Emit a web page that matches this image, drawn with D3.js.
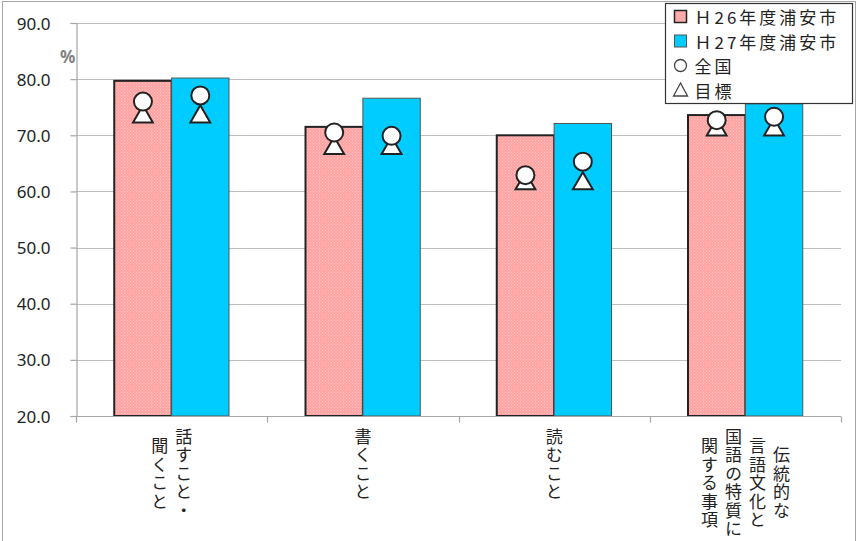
<!DOCTYPE html>
<html>
<head>
<meta charset="utf-8">
<script src="https://cdn.jsdelivr.net/npm/d3@7"></script>
<style>
  html, body { margin: 0; padding: 0; background: #fff; }
  svg { display: block; font-family: "Noto Sans CJK JP", "Noto Sans", sans-serif; }
</style>
</head>
<body>
<svg id="chart" width="858" height="541"></svg>
<script>
// Category labels, split into vertical text columns (right-most column first)
const categories = ["話すこと・聞くこと", "書くこと", "読むこと", "伝統的な言語文化と国語の特質に関する事項"];
const categoryColumns = [
  ["話すこと・", "聞くこと"],
  ["書くこと"],
  ["読むこと"],
  ["伝統的な", "言語文化と", "国語の特質に", "関する事項"]
];

// Series values (%)
const seriesNames = ["Ｈ26年度浦安市", "Ｈ27年度浦安市"];
const h26Values = [79.7, 71.5, 70.0, 73.6];
const h27Values = [80.2, 76.6, 72.1, 75.6];
const nationalH26 = [76.0, 70.5, 62.9, 72.7];
const nationalH27 = [77.1, 69.9, 65.3, 73.3];
const targetH26 = [73.3, 67.7, 61.4, 71.0];
const targetH27 = [73.3, 67.7, 61.4, 71.0];

const yTicks = [20, 30, 40, 50, 60, 70, 80, 90];
const legendItems = ["Ｈ26年度浦安市", "Ｈ27年度浦安市", "全国", "目標"];

const svg = d3.select("#chart");
const W = 858, H = 541;
const margin = { left: 76, right: 17, top: 23, bottom: 125 };
const plotW = W - margin.left - margin.right;
const plotH = H - margin.top - margin.bottom;

// Dotted pink texture for the H26 bars
const defs = svg.append("defs");
const pat = defs.append("pattern").attr("id", "pinkDots")
  .attr("width", 3).attr("height", 3).attr("patternUnits", "userSpaceOnUse");
pat.append("rect").attr("width", 3).attr("height", 3).attr("fill", "#FFA3A3");
pat.append("rect").attr("x", 0).attr("y", 0).attr("width", 1).attr("height", 1).attr("fill", "#FFC6C6");
pat.append("rect").attr("x", 1.5).attr("y", 1.5).attr("width", 1).attr("height", 1).attr("fill", "#FFBCBC");

// Outer frame
svg.append("rect").attr("x", 2.5).attr("y", 1.5).attr("width", 853).attr("height", 560)
  .attr("fill", "none").attr("stroke", "#A6A6A6").attr("stroke-width", 1);

const g = svg.append("g").attr("transform", `translate(${margin.left},${margin.top})`);

const y = d3.scaleLinear().domain([20, 90]).range([plotH, 0]);
const x0 = d3.scaleBand().domain(d3.range(categories.length)).range([0, plotW]).paddingInner(0.4).paddingOuter(0.2);
const x1 = d3.scaleBand().domain([0, 1]).range([0, x0.bandwidth()]);

// Gridlines
g.append("g").selectAll("line").data(yTicks.filter(t => t > 20)).join("line")
  .attr("x1", 0).attr("x2", plotW)
  .attr("y1", d => Math.round(y(d)) + 0.5).attr("y2", d => Math.round(y(d)) + 0.5)
  .attr("stroke", "#BFBFBF").attr("stroke-width", 1.2);

// Y axis
const yAxis = g.append("g").attr("transform", "translate(0.5,0)")
  .call(d3.axisLeft(y).tickValues(yTicks).tickFormat(d3.format(".1f")).tickSize(6).tickPadding(20));
yAxis.select(".domain").attr("stroke", "#A6A6A6").attr("stroke-width", 1.2);
yAxis.selectAll(".tick line").attr("stroke", "#A6A6A6").attr("stroke-width", 1.2);
yAxis.selectAll(".tick text").attr("font-size", 17).attr("fill", "#222")
  .attr("font-family", "Noto Sans, sans-serif").attr("dy", "0.36em");

// Unit label
g.append("text").attr("x", -16).attr("y", 40).text("%")
  .attr("font-size", 17).attr("font-weight", "bold").attr("fill", "#7F7F7F")
  .attr("font-family", "Noto Sans, sans-serif");

// Bars
const series = [
  { values: h26Values, fill: "url(#pinkDots)", stroke: "#222", sw: 2 },
  { values: h27Values, fill: "#00CCFF", stroke: "#555", sw: 1 }
];
series.forEach((s, si) => {
  g.append("g").selectAll("rect").data(s.values).join("rect")
    .attr("x", (d, i) => x0(i) + x1(si))
    .attr("y", d => y(d))
    .attr("width", x1.bandwidth())
    .attr("height", d => plotH - y(d))
    .attr("fill", s.fill).attr("stroke", s.stroke).attr("stroke-width", s.sw);
});

// X axis with boundary ticks
const xAxisG = g.append("g").attr("transform", `translate(0,${plotH + 0.5})`);
xAxisG.append("line").attr("x1", 0).attr("x2", plotW).attr("stroke", "#A6A6A6").attr("stroke-width", 1.2);
xAxisG.selectAll("line.tk").data(d3.range(categories.length + 1)).join("line").attr("class", "tk")
  .attr("x1", i => Math.round(i * plotW / categories.length) + 0.5)
  .attr("x2", i => Math.round(i * plotW / categories.length) + 0.5)
  .attr("y1", 0).attr("y2", 6).attr("stroke", "#A6A6A6").attr("stroke-width", 1.2);

// Vertical category labels (one text per column, set in vertical writing mode)
const charPitch = 18.5, colPitch = 24, labelTop = plotH + 12, fs = 17;
categoryColumns.forEach((cols, ci) => {
  const cx = x0(ci) + x0.bandwidth() / 2;
  const maxLen = d3.max(cols, c => c.length);
  const mid = labelTop + maxLen * charPitch / 2;
  cols.forEach((col, k) => {
    const colX = cx + ((cols.length - 1) / 2 - k) * colPitch;
    const top = mid - col.length * charPitch / 2;
    g.append("text").attr("x", colX).attr("y", top)
      .style("writing-mode", "vertical-rl")
      .style("letter-spacing", (charPitch - fs) + "px")
      .attr("text-anchor", "start")
      .attr("font-size", fs).attr("fill", "#222")
      .text(col);
  });
});

// Markers: circles (national) and triangles (target)
const circ = d3.symbol().type(d3.symbolCircle).size(Math.PI * 9 * 9);
const tri = d3.symbol().type(d3.symbolTriangle).size(170);
[[nationalH26, targetH26], [nationalH27, targetH27]].forEach(([nat, tgt], si) => {
  g.append("g").selectAll("path").data(tgt).join("path")
    .attr("transform", (d, i) => `translate(${x0(i) + x1(si) + x1.bandwidth() / 2},${y(d)})`)
    .attr("d", tri).attr("fill", "#fff").attr("stroke", "#222").attr("stroke-width", 2);
  g.append("g").selectAll("path").data(nat).join("path")
    .attr("transform", (d, i) => `translate(${x0(i) + x1(si) + x1.bandwidth() / 2},${y(d)})`)
    .attr("d", circ).attr("fill", "#fff").attr("stroke", "#222").attr("stroke-width", 2);
});

// Legend
const lg = svg.append("g").attr("transform", "translate(665.5,3.5)");
lg.append("rect").attr("width", 187).attr("height", 100).attr("fill", "#fff")
  .attr("stroke", "#333").attr("stroke-width", 1.2);
const rowY = [13, 37.5, 62, 86.5];
legendItems.forEach((name, i) => {
  const row = lg.append("g").attr("transform", `translate(0,${rowY[i]})`);
  if (i === 0) {
    row.append("rect").attr("x", 9).attr("y", -6).attr("width", 12).attr("height", 12)
      .attr("fill", "url(#pinkDots)").attr("stroke", "#222").attr("stroke-width", 1.5);
  } else if (i === 1) {
    row.append("rect").attr("x", 9).attr("y", -6).attr("width", 12).attr("height", 12)
      .attr("fill", "#00CCFF").attr("stroke", "#555").attr("stroke-width", 1);
  } else if (i === 2) {
    row.append("circle").attr("cx", 15).attr("cy", 0).attr("r", 6)
      .attr("fill", "#fff").attr("stroke", "#444").attr("stroke-width", 1.3);
  } else {
    row.append("path").attr("d", "M15,-7 L22,6 L8,6 Z")
      .attr("fill", "#fff").attr("stroke", "#444").attr("stroke-width", 1.3);
  }
  row.append("text").attr("x", 29).attr("y", 0).attr("dominant-baseline", "central")
    .attr("font-size", 17).style("letter-spacing", "3px").attr("fill", "#222").text(name);
});
</script>
</body>
</html>
